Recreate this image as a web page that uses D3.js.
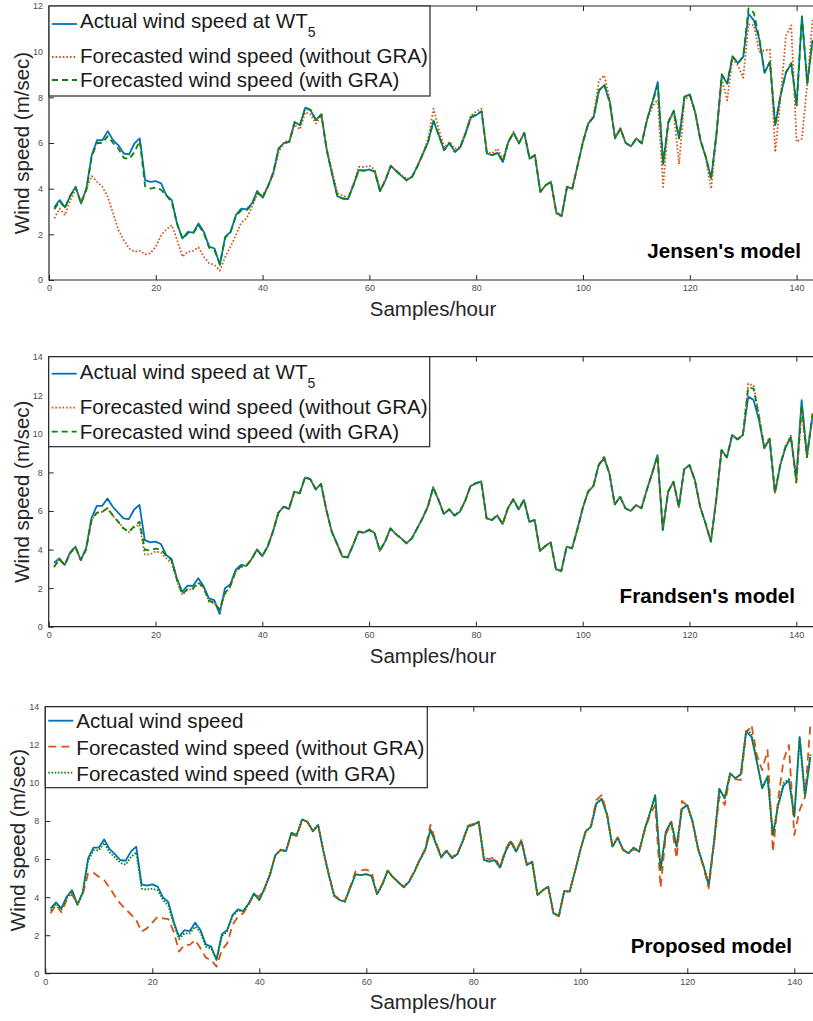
<!DOCTYPE html>
<html>
<head>
<meta charset="utf-8">
<script src="https://cdn.jsdelivr.net/npm/d3@7"></script>
<style>
  body { margin: 0; background: #fff; }
  svg { display: block; font-family: "Liberation Sans", Arial, Helvetica, sans-serif; }
  .tick text { fill: #4d4d4d; font-size: 9px; }
  .tick line { stroke: #262626; }
</style>
</head>
<body>
<div id="chart"></div>
<script>
// ---- data ----
const xTicks = [0, 20, 40, 60, 80, 100, 120, 140];
const yTicksJensen = [0, 2, 4, 6, 8, 10, 12];
const yTicks14 = [0, 2, 4, 6, 8, 10, 12, 14];

// Jensen's model
const actualJensen = [
  3.18, 3.5, 3.18, 3.7, 4.08, 3.35, 4.0, 5.47, 6.12, 6.12,
  6.52, 6.12, 5.9, 5.54, 5.5, 5.98, 6.2, 4.37, 4.3, 4.33,
  4.23, 3.7, 3.5, 2.45, 1.82, 2.11, 2.07, 2.48, 2.1, 1.46,
  1.38, 0.66, 1.9, 2.1, 2.84, 3.13, 3.09, 3.35, 3.9, 3.6,
  4.1, 4.7, 5.75, 6.0, 6.05, 6.92, 6.78, 7.55, 7.43, 7.0,
  7.26, 5.7, 4.66, 3.67, 3.57, 3.54, 4.15, 4.81, 4.78, 4.84,
  4.74, 3.89, 4.37, 5.0, 4.78, 4.56, 4.37, 4.52, 4.99, 5.51,
  6.05, 6.97, 6.34, 5.69, 6.0, 5.61, 5.8, 6.41, 7.11, 7.22,
  7.39, 5.54, 5.47, 5.57, 5.17, 6.05, 6.44, 5.98, 6.44, 5.31,
  5.47, 3.86, 4.15, 4.3, 2.96, 2.8, 4.08, 4.0, 5.03, 6.05,
  6.85, 7.14, 8.31, 8.53, 7.8, 6.2, 6.63, 6.0, 5.86, 6.2,
  5.98, 7.03, 7.8, 8.67, 5.07, 6.92, 7.41, 6.2, 8.02, 8.13,
  7.36, 6.12, 5.39, 4.45, 6.41, 9.0, 8.6, 9.8, 9.5, 9.77,
  11.66, 11.37, 10.57, 9.07, 9.55, 6.78, 8.09, 9.07, 9.48, 7.65,
  11.55, 8.6, 10.5
];
const withoutGraJensen = [
  2.7, 3.13, 2.84, 3.5, 4.0, 3.43, 4.0, 4.55, 4.3, 4.08,
  3.64, 2.92, 2.19, 1.75, 1.38, 1.24, 1.28, 1.12, 1.17, 1.46,
  1.97, 2.22, 2.4, 1.75, 1.02, 1.24, 1.28, 1.43, 1.02, 0.73,
  0.66, 0.41, 1.02, 1.46, 1.97, 2.51, 2.7, 3.2, 3.76, 3.72,
  4.1, 4.6, 5.6, 6.05, 6.1, 6.8, 6.6, 7.35, 7.25, 6.85,
  7.2, 5.8, 4.8, 3.8, 3.7, 3.62, 4.2, 4.95, 4.95, 5.0,
  4.85, 3.95, 4.4, 5.0, 4.8, 4.6, 4.42, 4.55, 5.0, 5.55,
  6.2, 7.5, 6.6, 5.8, 6.05, 5.75, 5.85, 6.5, 7.2, 7.38,
  7.5, 5.6, 5.55, 5.75, 5.3, 6.0, 6.5, 6.0, 6.45, 5.35,
  5.45, 3.85, 4.15, 4.3, 2.9, 2.78, 4.05, 4.0, 5.0, 6.05,
  6.9, 7.2, 8.75, 8.96, 7.9, 6.25, 6.65, 6.0, 5.85, 6.2,
  6.0, 7.0, 7.6, 7.9, 4.08, 7.0, 7.3, 5.07, 7.9, 8.05,
  7.3, 6.1, 5.3, 4.0, 6.3, 8.8, 7.87, 9.7, 9.4, 8.86,
  11.2, 11.15, 10.0, 10.06, 10.1, 5.61, 8.0, 10.7, 11.15, 6.05,
  6.2, 8.6, 11.4
];
const withGraJensen = [
  3.1, 3.45, 3.15, 3.7, 4.05, 3.35, 3.95, 5.4, 6.0, 6.0,
  6.3, 6.0, 5.75, 5.35, 5.3, 5.6, 6.1, 4.1, 4.0, 4.05,
  3.95, 3.7, 3.4, 2.45, 1.8, 2.05, 2.05, 2.4, 2.05, 1.4,
  1.3, 0.7, 1.85, 2.1, 2.8, 3.05, 3.05, 3.3, 3.85, 3.6,
  4.1, 4.7, 5.75, 6.0, 6.05, 6.9, 6.8, 7.55, 7.45, 7.0,
  7.25, 5.7, 4.66, 3.67, 3.57, 3.54, 4.15, 4.81, 4.8, 4.84,
  4.74, 3.89, 4.37, 5.0, 4.78, 4.56, 4.37, 4.52, 4.99, 5.51,
  6.05, 6.97, 6.34, 5.69, 6.0, 5.61, 5.8, 6.41, 7.15, 7.25,
  7.39, 5.54, 5.47, 5.57, 5.17, 6.05, 6.44, 5.98, 6.44, 5.31,
  5.47, 3.86, 4.15, 4.3, 2.96, 2.8, 4.08, 4.0, 5.03, 6.05,
  6.85, 7.14, 8.31, 8.53, 7.8, 6.2, 6.63, 6.0, 5.86, 6.2,
  5.98, 7.03, 7.8, 8.5, 5.15, 6.92, 7.41, 6.2, 8.02, 8.13,
  7.36, 6.12, 5.39, 4.45, 6.41, 9.0, 8.6, 9.8, 9.5, 9.77,
  11.9, 11.7, 10.6, 9.1, 9.55, 6.78, 8.09, 9.1, 9.5, 7.65,
  11.5, 8.6, 10.5
];

// Frandsen's model
const actualFrandsen = [
  3.32, 3.54, 3.2, 3.85, 4.15, 3.46, 4.06, 5.62, 6.26, 6.26,
  6.65, 6.22, 5.91, 5.62, 5.58, 6.08, 6.31, 4.49, 4.37, 4.41,
  4.29, 3.72, 3.51, 2.51, 1.81, 2.13, 2.11, 2.51, 2.11, 1.47,
  1.38, 0.66, 1.99, 2.19, 2.94, 3.2, 3.15, 3.51, 4.01, 3.66,
  4.15, 4.93, 5.9, 6.22, 6.1, 7.0, 6.91, 7.73, 7.64, 7.12,
  7.4, 6.05, 4.93, 4.29, 3.63, 3.6, 4.23, 4.93, 4.87, 5.01,
  4.87, 3.94, 4.41, 5.1, 4.8, 4.58, 4.32, 4.58, 5.1, 5.62,
  6.22, 7.21, 6.57, 5.84, 6.08, 5.76, 5.96, 6.53, 7.29, 7.43,
  7.52, 5.62, 5.53, 5.76, 5.32, 6.14, 6.6, 6.08, 6.57, 5.44,
  5.53, 3.92, 4.18, 4.36, 2.97, 2.9, 4.15, 4.06, 5.05, 6.14,
  7.0, 7.29, 8.38, 8.73, 7.95, 6.34, 6.74, 6.14, 6.0, 6.31,
  6.14, 7.09, 7.95, 8.9, 5.01, 7.0, 7.52, 6.22, 8.16, 8.38,
  7.6, 6.22, 5.36, 4.41, 6.57, 9.16, 8.78, 9.94, 9.71, 9.94,
  11.93, 11.75, 10.72, 9.25, 9.71, 6.95, 8.38, 9.3, 9.82, 7.69,
  11.75, 8.9, 10.8
];
const withoutGraFrandsen = [
  3.1, 3.5, 3.2, 3.8, 4.15, 3.45, 4.0, 5.5, 5.9, 5.95,
  6.15, 5.75, 5.45, 5.1, 4.9, 5.15, 5.3, 3.75, 3.75, 3.9,
  3.85, 3.55, 3.3, 2.4, 1.65, 1.9, 1.95, 2.25, 2.0, 1.3,
  1.2, 0.85, 1.7, 2.05, 2.85, 3.1, 3.15, 3.5, 4.0, 3.65,
  4.15, 4.95, 5.9, 6.25, 6.15, 7.0, 6.95, 7.75, 7.65, 7.15,
  7.4, 6.05, 4.95, 4.3, 3.65, 3.62, 4.25, 4.95, 4.9, 5.05,
  4.9, 3.95, 4.42, 5.1, 4.82, 4.6, 4.35, 4.6, 5.1, 5.65,
  6.25, 7.25, 6.6, 5.86, 6.1, 5.8, 6.0, 6.55, 7.3, 7.45,
  7.55, 5.65, 5.55, 5.8, 5.35, 6.15, 6.65, 6.1, 6.6, 5.45,
  5.55, 3.95, 4.2, 4.38, 3.0, 2.92, 4.15, 4.08, 5.05, 6.15,
  7.0, 7.3, 8.4, 8.8, 7.95, 6.35, 6.75, 6.15, 6.02, 6.3,
  6.15, 7.1, 7.95, 8.85, 5.05, 7.0, 7.5, 6.2, 8.15, 8.4,
  7.6, 6.2, 5.35, 4.42, 6.55, 9.15, 8.75, 9.95, 9.75, 9.95,
  12.6, 12.5, 11.0, 9.35, 9.8, 6.9, 8.4, 9.4, 9.9, 7.4,
  11.2, 8.7, 11.1
];
const withGraFrandsen = [
  3.1, 3.5, 3.2, 3.8, 4.15, 3.45, 4.0, 5.5, 5.92, 5.95,
  6.15, 5.78, 5.45, 5.1, 4.92, 5.2, 5.45, 4.0, 3.95, 4.05,
  4.0, 3.7, 3.45, 2.45, 1.7, 1.95, 1.98, 2.3, 2.05, 1.35,
  1.25, 0.9, 1.75, 2.1, 2.88, 3.12, 3.15, 3.5, 4.0, 3.66,
  4.15, 4.93, 5.9, 6.22, 6.12, 7.0, 6.92, 7.75, 7.65, 7.12,
  7.4, 6.05, 4.93, 4.3, 3.63, 3.6, 4.23, 4.93, 4.88, 5.02,
  4.88, 3.94, 4.41, 5.1, 4.8, 4.58, 4.32, 4.58, 5.1, 5.62,
  6.22, 7.22, 6.57, 5.84, 6.08, 5.76, 5.96, 6.53, 7.3, 7.45,
  7.52, 5.62, 5.53, 5.76, 5.32, 6.14, 6.6, 6.08, 6.57, 5.44,
  5.53, 3.92, 4.18, 4.36, 2.97, 2.9, 4.15, 4.06, 5.05, 6.14,
  7.0, 7.29, 8.4, 8.8, 7.95, 6.34, 6.74, 6.14, 6.0, 6.31,
  6.14, 7.09, 7.95, 8.88, 5.03, 7.0, 7.52, 6.22, 8.16, 8.38,
  7.6, 6.22, 5.36, 4.41, 6.57, 9.16, 8.78, 9.94, 9.71, 9.94,
  12.4, 12.35, 10.9, 9.3, 9.75, 6.95, 8.4, 9.35, 9.85, 7.5,
  11.5, 8.8, 11.0
];

// Proposed model
const actualProposed = [
  3.41, 3.73, 3.41, 4.02, 4.37, 3.62, 4.25, 6.04, 6.6, 6.6,
  7.03, 6.53, 6.26, 5.95, 5.91, 6.39, 6.65, 4.67, 4.6, 4.67,
  4.55, 3.99, 3.73, 2.71, 1.92, 2.27, 2.22, 2.66, 2.27, 1.52,
  1.4, 0.7, 2.05, 2.27, 3.06, 3.36, 3.27, 3.67, 4.2, 3.85,
  4.46, 5.18, 6.21, 6.47, 6.42, 7.38, 7.26, 8.08, 7.96, 7.47,
  7.79, 6.39, 5.16, 4.06, 3.85, 3.76, 4.5, 5.2, 5.16, 5.21,
  5.11, 4.15, 4.67, 5.39, 5.04, 4.78, 4.51, 4.81, 5.34, 5.95,
  6.47, 7.52, 6.82, 6.09, 6.44, 6.04, 6.25, 6.91, 7.7, 7.79,
  7.96, 5.95, 5.86, 5.95, 5.55, 6.39, 6.91, 6.39, 6.95, 5.69,
  5.86, 4.11, 4.37, 4.55, 3.15, 3.03, 4.32, 4.29, 5.34, 6.47,
  7.44, 7.7, 8.92, 9.15, 8.31, 6.65, 7.12, 6.47, 6.3, 6.6,
  6.39, 7.52, 8.4, 9.36, 5.42, 7.44, 7.96, 6.65, 8.63, 8.84,
  7.96, 6.56, 5.69, 4.64, 6.91, 9.68, 9.19, 10.5, 10.24, 10.45,
  12.69, 12.42, 11.11, 9.71, 10.32, 7.26, 8.84, 9.85, 10.15, 8.22,
  12.42, 9.27, 11.37
];
const withoutGraProposed = [
  3.15, 3.62, 3.2, 3.85, 4.15, 3.62, 4.15, 5.25, 5.28, 5.07,
  4.9, 4.5, 4.06, 3.67, 3.36, 3.1, 2.8, 2.19, 2.36, 2.66,
  2.97, 2.89, 2.85, 2.19, 1.14, 1.49, 1.49, 1.75, 1.31, 0.82,
  0.7, 0.35, 1.22, 1.57, 2.54, 2.97, 3.15, 3.59, 4.15, 4.02,
  4.5, 5.2, 6.2, 6.5, 6.45, 7.3, 7.2, 8.05, 7.95, 7.45,
  7.75, 6.4, 5.2, 4.1, 3.9, 3.8, 4.55, 5.35, 5.4, 5.45,
  5.3, 4.2, 4.7, 5.4, 5.05, 4.8, 4.55, 4.85, 5.35, 6.0,
  6.55, 7.8, 6.9, 6.15, 6.45, 6.1, 6.3, 6.95, 7.75, 7.85,
  8.0, 6.05, 6.0, 6.1, 5.6, 6.5, 7.0, 6.45, 7.0, 5.75,
  5.9, 4.1, 4.35, 4.55, 3.1, 3.0, 4.3, 4.3, 5.35, 6.45,
  7.45, 7.75, 9.1, 9.36, 8.4, 6.7, 7.15, 6.5, 6.35, 6.5,
  6.4, 7.45, 8.3, 8.84, 4.5, 7.3, 7.9, 6.04, 9.05, 8.8,
  7.9, 6.5, 5.6, 4.46, 6.8, 9.3, 8.84, 10.4, 10.2, 10.15,
  12.6, 13.04, 11.46, 10.67, 11.72, 6.39, 9.19, 11.2, 11.99, 7.26,
  8.57, 9.27, 13.04
];
const withGraProposed = [
  3.3, 3.65, 3.35, 3.95, 4.3, 3.6, 4.2, 5.9, 6.45, 6.45,
  6.85, 6.35, 6.1, 5.8, 5.7, 6.1, 6.35, 4.45, 4.4, 4.45,
  4.35, 3.85, 3.55, 2.6, 1.8, 2.1, 2.1, 2.45, 2.15, 1.4,
  1.3, 0.75, 1.95, 2.2, 3.0, 3.3, 3.25, 3.62, 4.15, 3.85,
  4.46, 5.18, 6.2, 6.47, 6.42, 7.38, 7.26, 8.08, 7.96, 7.47,
  7.79, 6.39, 5.16, 4.06, 3.85, 3.76, 4.5, 5.2, 5.16, 5.21,
  5.11, 4.15, 4.67, 5.39, 5.04, 4.78, 4.51, 4.81, 5.34, 5.95,
  6.47, 7.55, 6.82, 6.09, 6.44, 6.04, 6.25, 6.91, 7.72, 7.8,
  7.96, 5.95, 5.86, 5.95, 5.55, 6.39, 6.91, 6.39, 6.95, 5.69,
  5.86, 4.11, 4.37, 4.55, 3.15, 3.03, 4.32, 4.29, 5.34, 6.47,
  7.44, 7.7, 8.92, 9.15, 8.31, 6.65, 7.12, 6.47, 6.3, 6.6,
  6.39, 7.52, 8.4, 9.3, 5.45, 7.44, 7.96, 6.65, 8.63, 8.84,
  7.96, 6.56, 5.69, 4.64, 6.91, 9.68, 9.19, 10.5, 10.24, 10.45,
  12.8, 12.6, 11.15, 9.75, 10.35, 7.26, 8.9, 10.0, 10.2, 8.25,
  12.4, 9.3, 11.5
];

const BLUE = "#0072BD", ORANGE = "#D95319", GREEN = "#0a860a";

const W = 813, H = 1021;
const svg = d3.select("#chart").append("svg")
  .attr("width", W)
  .attr("height", H);

const panels = [
  {
    left: 49, top: 6, bottom: 280, kx: 5.34, ymax: 12, yTicks: yTicksJensen,
    label: "Jensen's model", labelX: 801, labelY: 258,
    legendW: 381, legendH: 90, rowLine: [18, 51, 74], rowText: [22, 57, 81],
    series: [
      { name: "Actual wind speed at WT", sub: "5", data: actualJensen, color: BLUE, dash: null },
      { name: "Forecasted wind speed (without GRA)", data: withoutGraJensen, color: ORANGE, dash: "1.6,2" },
      { name: "Forecasted wind speed (with GRA)", data: withGraJensen, color: GREEN, dash: "6,4" }
    ]
  },
  {
    left: 48.7, top: 356.7, bottom: 626.7, kx: 5.34, ymax: 14, yTicks: yTicks14,
    label: "Frandsen's model", labelX: 795, labelY: 603,
    legendW: 381, legendH: 90, rowLine: [17, 51, 75], rowText: [22, 57, 82],
    series: [
      { name: "Actual wind speed at WT", sub: "5", data: actualFrandsen, color: BLUE, dash: null },
      { name: "Forecasted wind speed (without GRA)", data: withoutGraFrandsen, color: ORANGE, dash: "1.6,2" },
      { name: "Forecasted wind speed (with GRA)", data: withGraFrandsen, color: GREEN, dash: "6,4" }
    ]
  },
  {
    left: 45.3, top: 706.7, bottom: 973.3, kx: 5.35, ymax: 14, yTicks: yTicks14,
    label: "Proposed model", labelX: 792, labelY: 953,
    legendW: 382, legendH: 81, rowLine: [14, 40, 66], rowText: [21, 48, 74],
    series: [
      { name: "Actual wind speed", data: actualProposed, color: BLUE, dash: null },
      { name: "Forecasted wind speed (without GRA)", data: withoutGraProposed, color: ORANGE, dash: "8,5" },
      { name: "Forecasted wind speed (with GRA)", data: withGraProposed, color: GREEN, dash: "1.6,1.6" }
    ]
  }
];

panels.forEach((p, i) => drawPanel(p, i));

function drawPanel(p, i) {
  const x = d3.scaleLinear().domain([0, 144]).range([p.left, p.left + 144 * p.kx]);
  const y = d3.scaleLinear().domain([0, p.ymax]).range([p.bottom, p.top]);
  const g = svg.append("g");

  svg.append("clipPath").attr("id", "clip" + i)
    .append("rect")
    .attr("x", p.left).attr("y", p.top)
    .attr("width", 144 * p.kx).attr("height", p.bottom - p.top);

  // axes, MATLAB style ticks pointing inward
  const bottomAxis = g.append("g")
    .attr("transform", `translate(0,${p.bottom})`)
    .call(d3.axisBottom(x).tickValues(xTicks).tickSizeInner(-5).tickSizeOuter(0).tickPadding(5));
  g.append("g")
    .attr("transform", `translate(0,${p.top})`)
    .call(d3.axisTop(x).tickValues(xTicks).tickSizeInner(-5).tickSizeOuter(0).tickFormat(""));
  const leftAxis = g.append("g")
    .attr("transform", `translate(${p.left},0)`)
    .call(d3.axisLeft(y).tickValues(p.yTicks).tickSizeInner(-5).tickSizeOuter(0).tickPadding(6));
  g.selectAll(".domain").remove();
  bottomAxis.selectAll("text").attr("font-family", null);
  leftAxis.selectAll("text").attr("font-family", null);

  // box lines
  const xr = x.range();
  g.append("path")
    .attr("d", `M${xr[1]},${p.top}H${p.left}V${p.bottom}H${xr[1]}`)
    .attr("fill", "none")
    .attr("stroke", "#262626")
    .attr("stroke-width", 1.2);

  const line = d3.line()
    .x((d, k) => x(k + 1))
    .y(d => y(d));

  const plot = g.append("g").attr("clip-path", `url(#clip${i})`);
  p.series.forEach(s => {
    plot.append("path")
      .datum(s.data)
      .attr("d", line)
      .attr("fill", "none")
      .attr("stroke", s.color)
      .attr("stroke-width", 1.8)
      .attr("stroke-linejoin", "round")
      .attr("stroke-dasharray", s.dash);
  });

  // legend
  const lg = g.append("g").attr("transform", `translate(${p.left},${p.top})`);
  lg.append("rect")
    .attr("width", p.legendW).attr("height", p.legendH)
    .attr("fill", "#fff")
    .attr("stroke", "#262626")
    .attr("stroke-width", 1.2);
  p.series.forEach((s, k) => {
    lg.append("line")
      .attr("x1", 3).attr("x2", 28)
      .attr("y1", p.rowLine[k]).attr("y2", p.rowLine[k])
      .attr("stroke", s.color)
      .attr("stroke-width", 1.8)
      .attr("stroke-dasharray", s.dash);
    const t = lg.append("text")
      .attr("x", 31).attr("y", p.rowText[k])
      .attr("font-size", 20.6)
      .attr("fill", "#1a1a1a")
      .text(s.name);
    if (s.sub) {
      t.append("tspan").attr("font-size", 14).attr("dy", 9).text(s.sub);
    }
  });

  // axis labels
  g.append("text")
    .attr("text-anchor", "middle")
    .attr("font-size", 20.5)
    .attr("fill", "#262626")
    .attr("transform", `translate(${p.left - 20},${(p.top + p.bottom) / 2})rotate(-90)`)
    .text("Wind speed (m/sec)");

  g.append("text")
    .attr("text-anchor", "middle")
    .attr("font-size", 20.5)
    .attr("fill", "#262626")
    .attr("x", 433)
    .attr("y", p.bottom + 36)
    .text("Samples/hour");

  // model label
  g.append("text")
    .attr("text-anchor", "end")
    .attr("font-size", 20.6)
    .attr("font-weight", "bold")
    .attr("fill", "#000")
    .attr("x", p.labelX)
    .attr("y", p.labelY)
    .text(p.label);
}
</script>
</body>
</html>
